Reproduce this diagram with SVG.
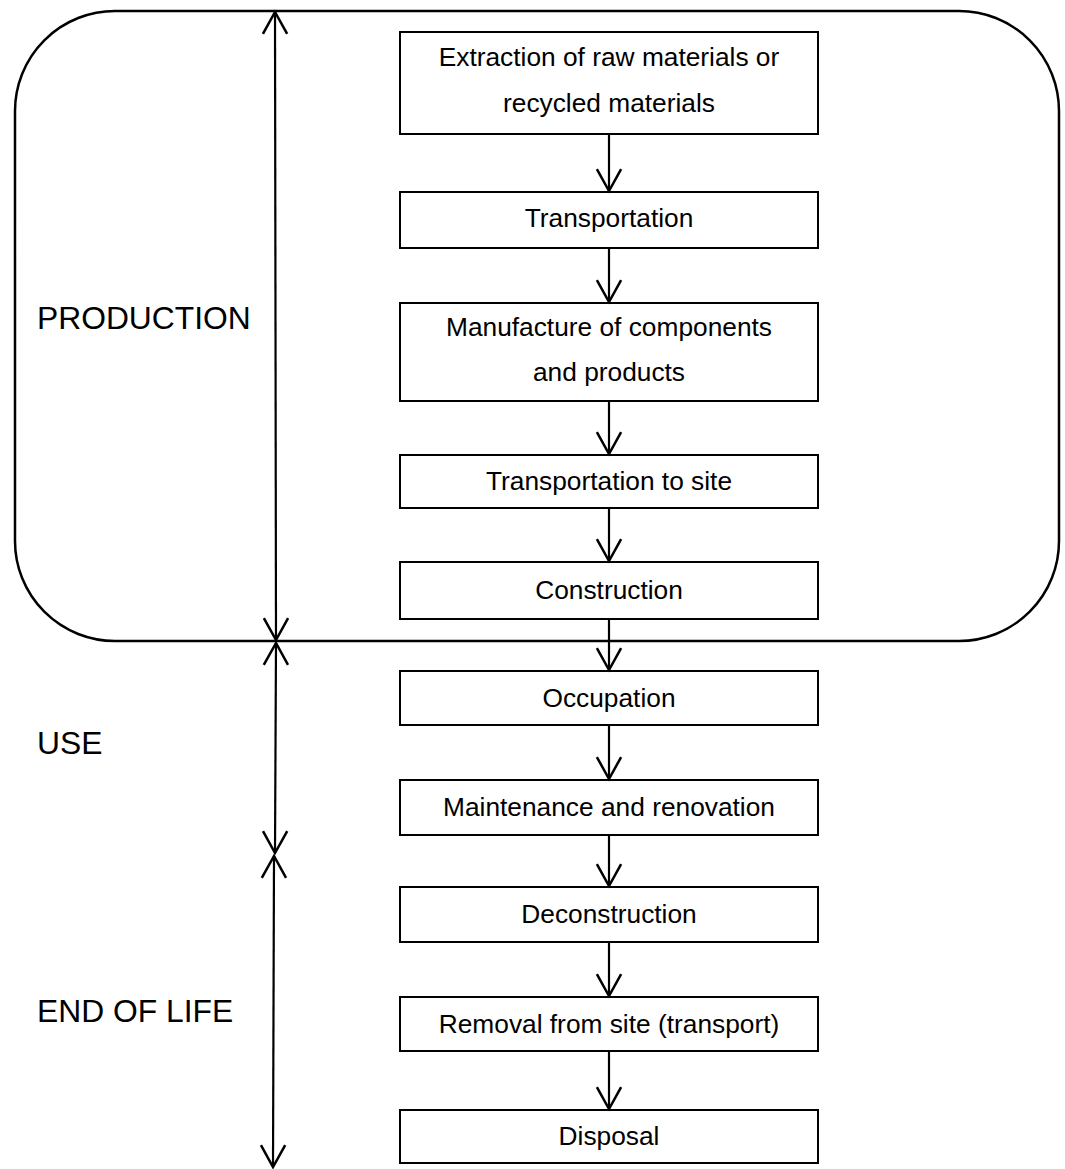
<svg xmlns="http://www.w3.org/2000/svg" width="1065" height="1169" viewBox="0 0 1065 1169">
<style>
.box{fill:#fff;stroke:#000;stroke-width:2}
.t{font-family:"Liberation Sans",Arial,sans-serif;font-size:26.3px;fill:#000;text-anchor:middle}
.lbl{font-family:"Liberation Sans",Arial,sans-serif;font-size:31.8px;fill:#000}
.c{fill:none;stroke:#000;stroke-width:2.2}
</style>
<defs>
<marker id="ah" markerUnits="userSpaceOnUse" markerWidth="30" markerHeight="30" viewBox="-22 -13 24 26" refX="0" refY="0" orient="auto-start-reverse">
<path d="M-19,-10.5 L0,0 L-19,10.5" fill="none" stroke="#000" stroke-width="2.2"/>
</marker>
</defs>
<g id="phase-frame">
<rect x="15" y="11" width="1044" height="630" rx="100" ry="100" fill="none" stroke="#000" stroke-width="2.5"/>
</g>
<g id="labels">
<text id="production" class="lbl" x="37" y="329">PRODUCTION</text>
<text id="use" class="lbl" x="37" y="754">USE</text>
<text id="endoflife" class="lbl" x="37" y="1022">END OF LIFE</text>
</g>
<g id="n1"><rect class="box" x="400" y="32" width="418" height="102"/><text class="t" x="609" y="66">Extraction of raw materials or</text><text class="t" x="609" y="112">recycled materials</text></g>
<g id="n2"><rect class="box" x="400" y="192" width="418" height="56"/><text class="t" x="609" y="227">Transportation</text></g>
<g id="n3"><rect class="box" x="400" y="303" width="418" height="98"/><text class="t" x="609" y="336">Manufacture of components</text><text class="t" x="609" y="381">and products</text></g>
<g id="n4"><rect class="box" x="400" y="455" width="418" height="53"/><text class="t" x="609" y="490">Transportation to site</text></g>
<g id="n5"><rect class="box" x="400" y="562" width="418" height="57"/><text class="t" x="609" y="599">Construction</text></g>
<g id="n6"><rect class="box" x="400" y="671" width="418" height="54"/><text class="t" x="609" y="707">Occupation</text></g>
<g id="n7"><rect class="box" x="400" y="780" width="418" height="55"/><text class="t" x="609" y="816">Maintenance and renovation</text></g>
<g id="n8"><rect class="box" x="400" y="887" width="418" height="55"/><text class="t" x="609" y="923">Deconstruction</text></g>
<g id="n9"><rect class="box" x="400" y="997" width="418" height="54"/><text class="t" x="609" y="1033">Removal from site (transport)</text></g>
<g id="n10"><rect class="box" x="400" y="1110" width="418" height="53"/><text class="t" x="609" y="1145">Disposal</text></g>
<g id="connectors">
<line class="c" x1="609" y1="134" x2="609" y2="191" marker-end="url(#ah)"/>
<line class="c" x1="609" y1="248" x2="609" y2="302" marker-end="url(#ah)"/>
<line class="c" x1="609" y1="401" x2="609" y2="454" marker-end="url(#ah)"/>
<line class="c" x1="609" y1="508" x2="609" y2="561" marker-end="url(#ah)"/>
<line class="c" x1="609" y1="619" x2="609" y2="670" marker-end="url(#ah)"/>
<line class="c" x1="609" y1="725" x2="609" y2="779" marker-end="url(#ah)"/>
<line class="c" x1="609" y1="835" x2="609" y2="886" marker-end="url(#ah)"/>
<line class="c" x1="609" y1="942" x2="609" y2="996" marker-end="url(#ah)"/>
<line class="c" x1="609" y1="1051" x2="609" y2="1109" marker-end="url(#ah)"/>
<line class="c" x1="275" y1="12" x2="276" y2="640" marker-start="url(#ah)" marker-end="url(#ah)"/>
<line class="c" x1="276" y1="643" x2="275" y2="853" marker-start="url(#ah)" marker-end="url(#ah)"/>
<line class="c" x1="274" y1="856" x2="273" y2="1167" marker-start="url(#ah)" marker-end="url(#ah)"/>
</g>
</svg>
